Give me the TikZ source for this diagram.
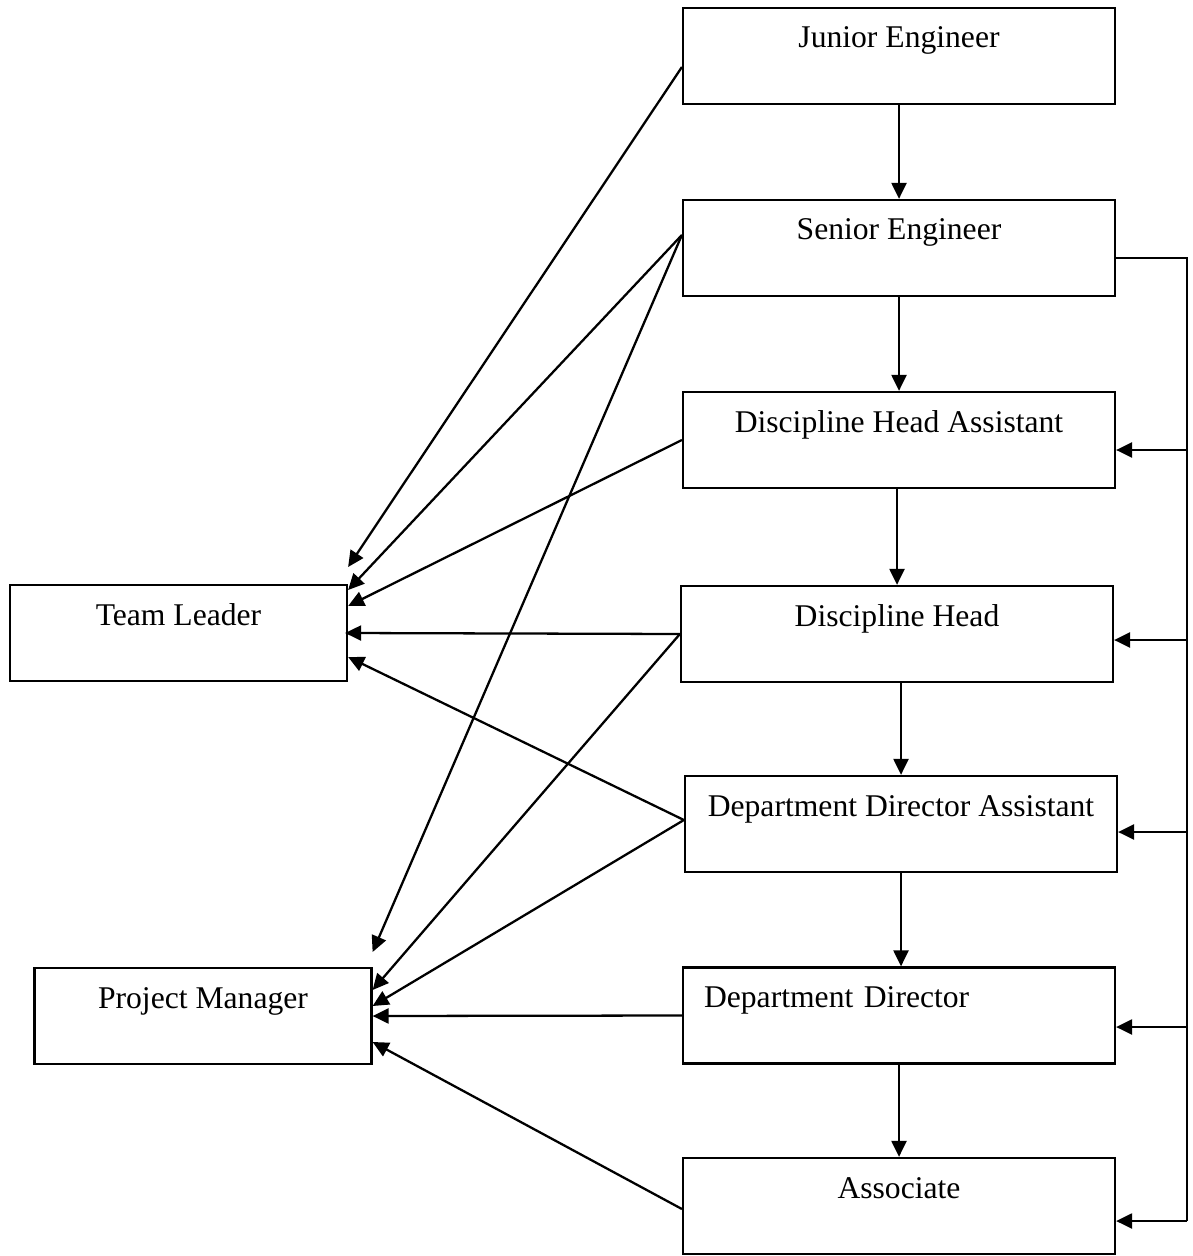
\documentclass[tikz,border=0pt]{standalone}
\usepackage{fontspec}
\setmainfont{Liberation Serif}
\usetikzlibrary{arrows.meta}

\tikzset{
  post/.style={draw, line width=1.3pt, minimum width=8.64cm, minimum height=1.92cm,
    inner sep=0pt, text height=0.8cm, text depth=1.12cm, font=\fontsize{18}{22}\selectfont},
  role/.style={post, minimum width=6.74cm},
  arr/.style={line width=1.3pt, -{Triangle[length=0.32cm,width=0.3cm]}}
}

\begin{document}
\begin{tikzpicture}[x=0.02cm, y=-0.02cm]
\useasboundingbox (0,0) rectangle (1192,1256);

\node[post] (je) at (899,56) {Junior Engineer};
\node[post] (se) at (899,248) {Senior Engineer};
\node[post] (dha) at (899,440) {Discipline Head Assistant};
\node[post] (dh) at (897,634) {Discipline Head};
\node[post] (dda) at (901,824) {Department Director Assistant};
\node[post, align=left, text width=7.8cm, inner xsep=0.42cm] (dd) at (899,1015.5) {Department Director};
\node[post] (as) at (899,1206) {Associate};

\node[role] (tl) at (178.5,633) {Team Leader};
\node[role] (pm) at (203,1016) {Project Manager};

\draw[arr] (je.south) -- (je.south |- se.north);
\draw[arr] (se.south) -- (se.south |- dha.north);
\draw[arr] (dh.north |- dha.south) -- (dh.north);
\draw[arr] (dda.north |- dh.south) -- (dda.north);
\draw[arr] (dda.south) -- (dda.south |- dd.north);
\draw[arr] (dd.south) -- (dd.south |- as.north);

\coordinate (bus) at (1187,258);
\coordinate (busend) at (1187,1221);
\draw[line width=1.3pt] (se.east |- bus) -- (bus) -- (busend);
\foreach \n/\y in {dha/450, dh/640, dda/832, dd/1027, as/1221}
  \draw[arr] (bus |- 0,\y) -- (\n.east |- 0,\y);

\draw[arr] ([yshift=-0.22cm]je.west) -- ([yshift=1.32cm]tl.east);
\draw[arr] ([yshift=0.26cm]se.west) -- ([yshift=0.86cm]tl.east);
\draw[arr] (dha.west) -- ([yshift=0.54cm]tl.east);
\draw[arr] (dh.west) -- ([xshift=-0.06cm]tl.east);
\draw[arr] ([yshift=0.08cm]dda.west) -- ([yshift=-0.48cm]tl.east);

\draw[arr] ([yshift=0.26cm]se.west) -- ([yshift=1.28cm]pm.east);
\draw[arr] (dh.west) -- ([yshift=0.52cm]pm.east);
\draw[arr] ([yshift=0.08cm]dda.west) -- ([yshift=0.2cm]pm.east);
\draw[arr] (dd.west) -- (pm.east);
\draw[arr] ([yshift=-0.06cm]as.west) -- ([yshift=-0.52cm]pm.east);

\end{tikzpicture}
\end{document}
